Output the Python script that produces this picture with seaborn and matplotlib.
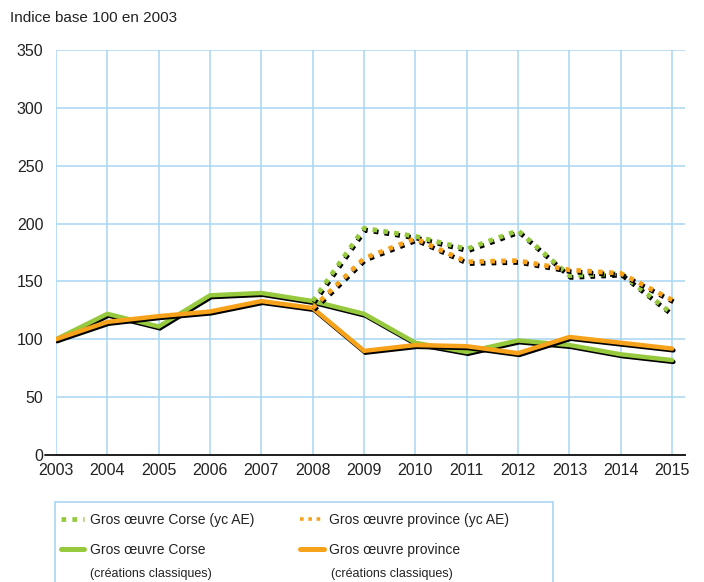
import matplotlib
matplotlib.use("Agg")
import matplotlib.pyplot as plt
import matplotlib.patheffects as pe
from matplotlib.patches import Rectangle
from matplotlib.lines import Line2D
import seaborn as sns

years = list(range(2003, 2016))
corse_classique = [100, 122, 111, 138, 140, 133, 122, 97, 89, 99, 95, 87, 82]
province_classique = [100, 115, 120, 124, 133, 127, 90, 95, 94, 88, 102, 97, 92]
ae_years = list(range(2008, 2016))
corse_ae = [133, 196, 189, 178, 194, 155, 157, 122]
province_ae = [127, 170, 187, 167, 168, 160, 157, 134]

GREEN = "#96c93d"
ORANGE = "#f7a21b"
GRID = "#a9d6f2"
TXT = "#222222"
DOTS = (0, (1, 1.3))

sns.set_style("white")
plt.rcParams["font.family"] = ["Liberation Sans", "DejaVu Sans"]

fig = plt.figure(figsize=(7.04, 5.82), dpi=100)
ax = fig.add_axes([56 / 704, 1 - 455 / 582, 629 / 704, 405 / 582])

shadow = [pe.SimpleLineShadow(offset=(0.9, -1.3), shadow_color="black", alpha=1), pe.Normal()]

sns.lineplot(x=years, y=corse_classique, ax=ax, color=GREEN, lw=3.2,
             path_effects=shadow, solid_joinstyle="miter", legend=False)
sns.lineplot(x=years, y=province_classique, ax=ax, color=ORANGE, lw=3.2,
             path_effects=shadow, solid_joinstyle="miter", legend=False)
sns.lineplot(x=ae_years, y=corse_ae, ax=ax, color=GREEN, lw=3.4, linestyle=DOTS,
             path_effects=shadow, legend=False)
sns.lineplot(x=ae_years, y=province_ae, ax=ax, color=ORANGE, lw=3.4, linestyle=DOTS,
             path_effects=shadow, legend=False)

ax.set_xlim(2003, 2015.25)
ax.set_ylim(0, 350)
ax.set_xticks(years)
ax.set_yticks(range(0, 351, 50))
ax.grid(True, color=GRID, lw=1.1)
ax.set_axisbelow(True)
for s in ["left", "right", "top"]:
    ax.spines[s].set_visible(False)
ax.spines["bottom"].set_color(TXT)
ax.spines["bottom"].set_linewidth(1.4)
ax.axhline(0, xmin=-11 / 629, xmax=1, color=TXT, lw=1.4, clip_on=False, zorder=3)
ax.tick_params(axis="y", length=7, width=1.1, color=GRID, labelsize=11.5, labelcolor=TXT, pad=2)
ax.tick_params(axis="x", length=0, labelsize=11.5, labelcolor=TXT, pad=6)
ax.set_xlabel("")
ax.set_ylabel("")

fig.text(10 / 704, 1 - 18 / 582, "Indice base 100 en 2003", fontsize=11, color=TXT, va="center")

# legend
handles = [
    Line2D([], [], color=GREEN, lw=3.4, linestyle=DOTS),
    Line2D([], [], color=GREEN, lw=3.6, solid_capstyle="round"),
    Line2D([], [], color=ORANGE, lw=2.6, linestyle=DOTS),
    Line2D([], [], color=ORANGE, lw=3.6),
]
labels = ["Gros œuvre Corse (yc AE)", "Gros œuvre Corse",
          "Gros œuvre province (yc AE)", "Gros œuvre province"]
leg = fig.legend(handles, labels, ncol=2,
                 loc="upper left", bbox_to_anchor=(55 / 704, 1 - 507 / 582),
                 frameon=False, fontsize=10, handlelength=1.7, handletextpad=0.4,
                 columnspacing=3.3, labelspacing=1.2, borderaxespad=0)
for t in leg.get_texts():
    t.set_color(TXT)
fig.patches.append(Rectangle((55 / 704, -0.05), 498 / 704, 0.05 + 80 / 582, transform=fig.transFigure,
                             fill=False, edgecolor=GRID, lw=1.2))
fig.text(90 / 704, 1 - 574 / 582, "(créations classiques)", fontsize=9, color=TXT, va="center")
fig.text(331 / 704, 1 - 574 / 582, "(créations classiques)", fontsize=9, color=TXT, va="center")

fig.savefig("out.png", dpi=100)
